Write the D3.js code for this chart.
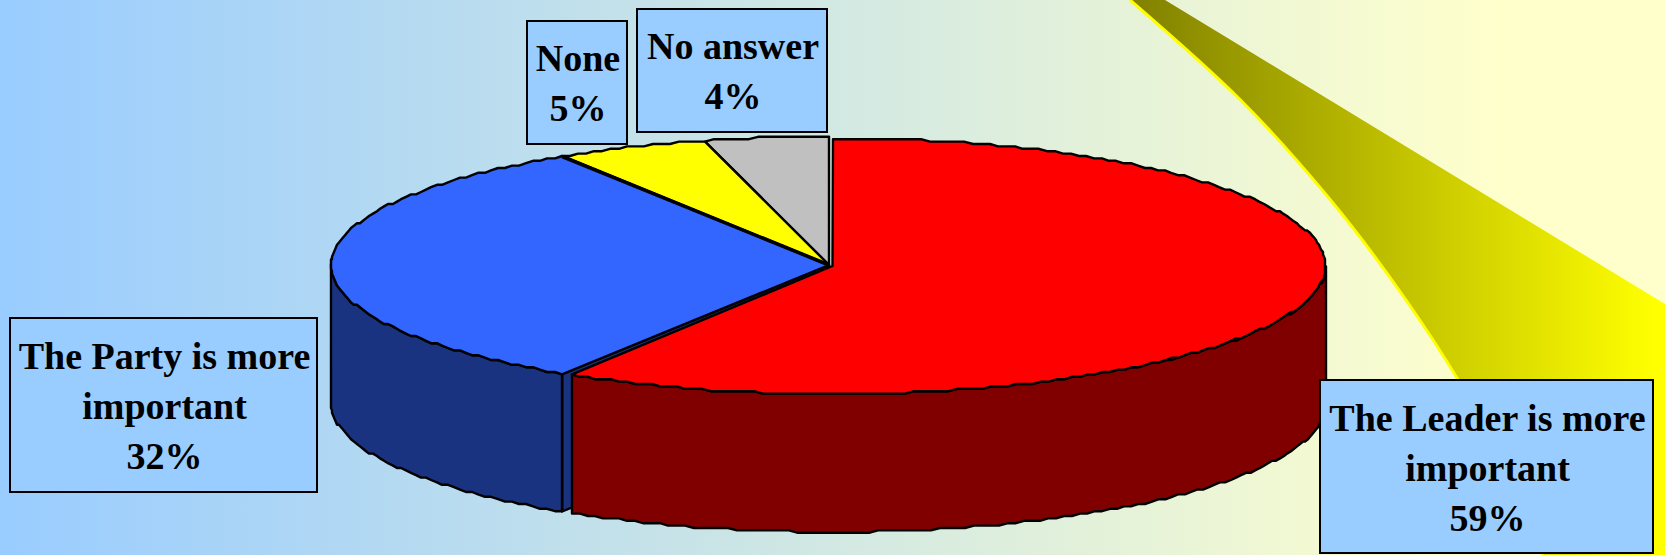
<!DOCTYPE html>
<html><head><meta charset="utf-8">
<script src="https://cdnjs.cloudflare.com/ajax/libs/d3/7.8.5/d3.min.js"></script>
<style>html,body{margin:0;padding:0;background:#fff}svg{display:block}</style></head>
<body><svg id="c" width="1665" height="555"></svg>
<script>
const categories = ["The Leader is more important","The Party is more important","None","No answer"];
const values = [59,32,5,4];
const topColors = ["#FF0000","#3366FF","#FFFF00","#C0C0C0"];
const wallColors = ["#800000","#1A3380","#808000","#606060"];
const labelLines = [["The Leader is more","important","59%"],["The Party is more","important","32%"],["None","5%"],["No answer","4%"]];
const labelBoxes = [[1320,380,333,173],[10,318,307,174],[527,21,100,123],[637,9,190,123]];
const labelBaselines = [[431,481,531],[369,419,469],[71,121],[59,109]];
const W=1665,H=555;
const svg=d3.select("#c");
const defs=svg.append("defs");
const bg=defs.append("linearGradient").attr("id","bg");
bg.append("stop").attr("offset",0).attr("stop-color","#99CCFF");
bg.append("stop").attr("offset",0.9).attr("stop-color","#FFFFCC");
const sw=defs.append("linearGradient").attr("id","sw").attr("gradientUnits","userSpaceOnUse").attr("x1",1130).attr("x2",1665).attr("y1",0).attr("y2",0);
sw.append("stop").attr("offset",0).attr("stop-color","#808000");
sw.append("stop").attr("offset",0.98).attr("stop-color","#FFFF00");
svg.append("rect").attr("width",W).attr("height",H).attr("fill","url(#bg)");

// swoosh
const lowerEdge=[[1130,0],[1240.5,100],[1330.5,200],[1406,300],[1457,378],[1543,555]];
const upperEdge=[[1665,555],[1665,304],[1165,0]];
const curve=d3.line().curve(d3.curveMonotoneY);
svg.append("path").attr("d",curve(lowerEdge)+"L"+upperEdge.join("L")+"Z").attr("fill","url(#sw)");
svg.append("path").attr("d",curve(lowerEdge)).attr("fill","none").attr("stroke","#FFFF00").attr("stroke-width",3);

// pie
const arcs=d3.pie().sort(null).value(d=>d)(values);
const geom=[{cx:832.5,cy:266,rx:493,ry:128},{cx:829,cy:265,rx:498,ry:128.5},{cx:829,cy:265,rx:498,ry:128.5},{cx:829,cy:265,rx:498,ry:128.5}];
const redInset=0.0095;   // the exploded slice pulls away from its neighbour at the seam
const depth=138;
const jag=p=>[Math.round(p[0]),Math.round(p[1]/2.4)*2.4];
function arcPts(i,a0,a1,dy=0){
  const g=geom[i],n=Math.max(2,Math.round(Math.abs(a1-a0)/0.018));
  return d3.range(n+1).map(k=>{
    const a=a0+(a1-a0)*k/n;
    return jag([g.cx+g.rx*Math.sin(a),g.cy-g.ry*Math.cos(a)+dy]);
  });
}
const line=d3.line();
const gPie=svg.append("g").attr("stroke","#000").attr("stroke-width",2.4).attr("stroke-linejoin","round");
function wall(i,a0,a1){
  const top=arcPts(i,a0,a1),bot=arcPts(i,a0,a1,depth).reverse();
  gPie.append("path").attr("d",line(top.concat(bot))+"Z").attr("fill",wallColors[i]);
}
(function(){
  const g=geom[1],a=arcs[1],sx=g.cx+g.rx*Math.sin(a.startAngle),sy=g.cy-g.ry*Math.cos(a.startAngle);
  gPie.append("path").attr("d",line([[g.cx,g.cy],[sx,sy],[sx,sy+depth],[g.cx,g.cy+depth]])+"Z").attr("fill",wallColors[1]);
  wall(1,a.startAngle,1.5*Math.PI);
})();
const redEnd=arcs[0].endAngle-redInset;
wall(0,Math.PI/2,redEnd);
[3,2,1,0].forEach(i=>{
  const g=geom[i],a=arcs[i],end=i===0?redEnd:a.endAngle;
  gPie.append("path").attr("d",line([[g.cx,g.cy]].concat(arcPts(i,a.startAngle,end)))+"Z").attr("fill",topColors[i]);
});
// heavier separator between the blue and yellow slices
(function(){
  const g=geom[1],a=arcs[1].endAngle;
  gPie.append("path").attr("d",line([[g.cx,g.cy],[g.cx+g.rx*Math.sin(a),g.cy-g.ry*Math.cos(a)]])).attr("fill","none").attr("stroke-width",3.6);
})();

// labels
categories.forEach((c,i)=>{
  const b=labelBoxes[i],g=svg.append("g");
  g.append("rect").attr("x",b[0]).attr("y",b[1]).attr("width",b[2]).attr("height",b[3]).attr("fill","#99CCFF").attr("stroke","#000").attr("stroke-width",2);
  labelLines[i].forEach((t,j)=>g.append("text").text(t).attr("x",b[0]+b[2]/2+1).attr("y",labelBaselines[i][j]).attr("text-anchor","middle")
    .attr("font-family","'Liberation Serif',serif").attr("font-weight","bold").attr("font-size",38).attr("fill","#000"));
});
</script></body></html>
